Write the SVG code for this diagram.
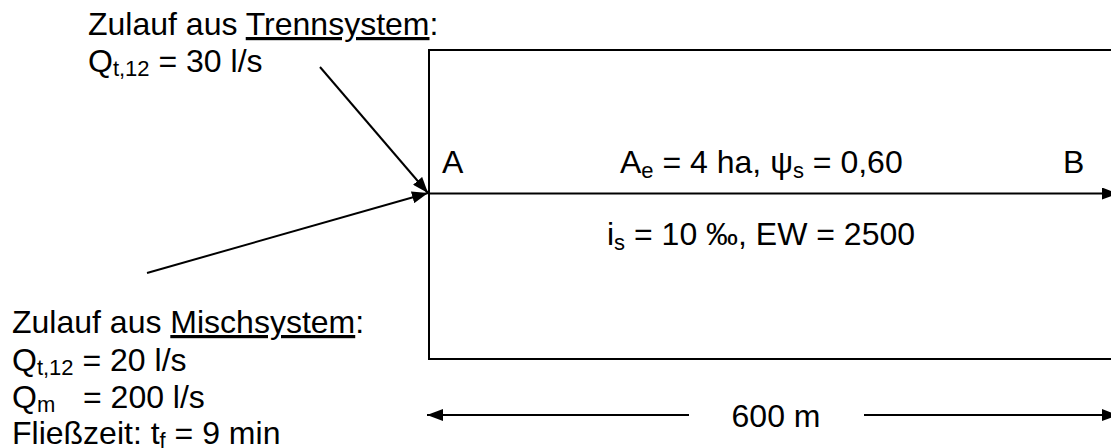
<svg xmlns="http://www.w3.org/2000/svg" width="1111" height="448" viewBox="0 0 1111 448">
<style>
text{font-family:"Liberation Sans",Arial,sans-serif;font-size:32px;fill:#000}
.sub{font-size:22px}
.ln{stroke:#000;stroke-width:2;fill:none}
</style>
<defs>
<marker id="ah" markerUnits="userSpaceOnUse" viewBox="0 0 16 12" markerWidth="16" markerHeight="12" refX="16" refY="6" orient="auto"><path d="M0,0 L16,6 L0,12 z" fill="#000"/></marker>
<marker id="ahs" markerUnits="userSpaceOnUse" viewBox="0 0 16 12" markerWidth="16" markerHeight="12" refX="16" refY="6" orient="auto-start-reverse"><path d="M0,0 L16,6 L0,12 z" fill="#000"/></marker>
</defs>
<rect width="1111" height="448" fill="#fff"/>
<g id="area">
<path class="ln" d="M1120,50 L429,50 L429,359 L1120,359"/>
<text x="442" y="173">A</text>
<text x="1063" y="173">B</text>
<text x="620" y="173">A<tspan class="sub" dy="5">e</tspan><tspan dy="-5"> = 4 ha, ψ</tspan><tspan class="sub" dy="5">s</tspan><tspan dy="-5"> = 0,60</tspan></text>
<text x="607" y="245">i<tspan class="sub" dy="5">s</tspan><tspan dy="-5"> = 10 ‰, EW = 2500</tspan></text>
</g>
<g id="trenn">
<text x="88" y="35">Zulauf aus <tspan text-decoration="underline">Trennsystem</tspan>:</text>
<text x="88" y="72">Q<tspan class="sub" dy="4">t,12</tspan><tspan dy="-4"> = 30 l/s</tspan></text>
</g>
<g id="misch">
<text x="12" y="333">Zulauf aus <tspan text-decoration="underline">Mischsystem</tspan>:</text>
<text x="12" y="371">Q<tspan class="sub" dy="4">t,12</tspan><tspan dy="-4"> = 20 l/s</tspan></text>
<text x="12" y="408">Q<tspan class="sub" dy="4">m</tspan><tspan x="83" dy="-4">= 200 l/s</tspan></text>
<text x="12" y="444">Fließzeit: t<tspan class="sub" dy="4">f</tspan><tspan dy="-4"> = 9 min</tspan></text>
</g>
<g id="dimension">
<text x="776" y="427" text-anchor="middle">600 m</text>
</g>
<g id="connectors">
<line class="ln" x1="320" y1="67" x2="428" y2="193" marker-end="url(#ah)"/>
<line class="ln" x1="147" y1="273" x2="428" y2="193" marker-end="url(#ah)"/>
<line class="ln" x1="429" y1="193.5" x2="1118" y2="193.5" marker-end="url(#ah)"/>
<line class="ln" x1="427" y1="415" x2="689" y2="415" marker-start="url(#ahs)"/>
<line class="ln" x1="864" y1="415" x2="1118" y2="415" marker-end="url(#ah)"/>
</g>
</svg>
